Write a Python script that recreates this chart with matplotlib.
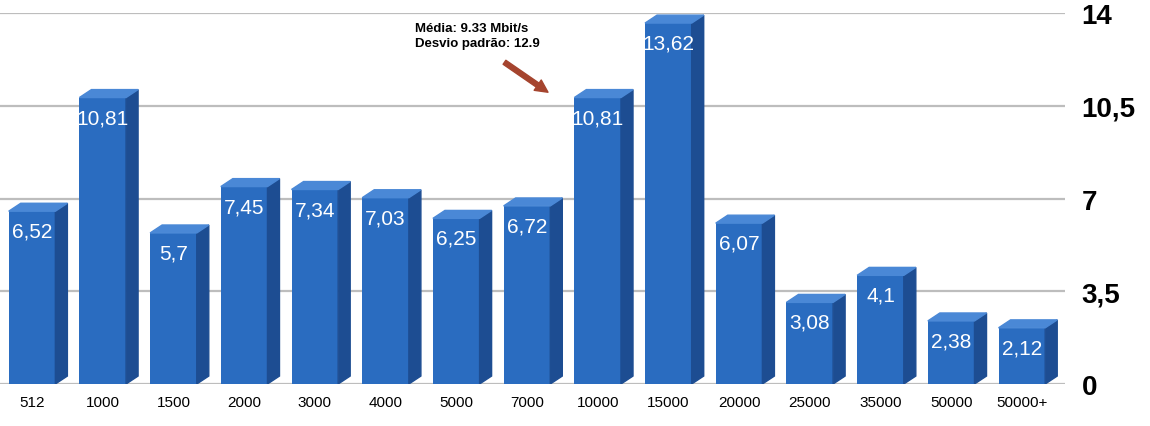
import numpy as np
import matplotlib
matplotlib.use('Agg')
from matplotlib import pyplot as plt
from matplotlib.patches import Polygon

plt.rcParams['font.family'] = ['Liberation Sans', 'DejaVu Sans']

categories = ['512', '1000', '1500', '2000', '3000', '4000', '5000', '7000',
              '10000', '15000', '20000', '25000', '35000', '50000', '50000+']
values = [6.52, 10.81, 5.7, 7.45, 7.34, 7.03, 6.25, 6.72,
          10.81, 13.62, 6.07, 3.08, 4.1, 2.38, 2.12]
yticks = [0, 3.5, 7, 10.5, 14]
ytick_labels = ['0', '3,5', '7', '10,5', '14']
note = 'Média: 9.33 Mbit/s\nDesvio padrão: 12.9'

front = '#2a6cc0'
side = '#1d4d92'
top = '#4a88d6'

fig = plt.figure(figsize=(11.5, 4.27), dpi=100)
ax = fig.add_axes([0.0, (427 - 385) / 427, 1065 / 1150, 371 / 427])
ax.set_xlim(-0.453, 14.61)
ax.set_ylim(0, 14)

## grid
for t in yticks:
    ax.axhline(t, color='#bdbdbd', lw=1.6, zorder=0)

## bars (front face + side + top)
x = np.arange(len(values))
w = 0.66
dx = 0.17
dy = 0.3
ax.bar(x, values, width=w, color=front, zorder=3)
for xi, v in zip(x, values):
    xr = xi + w / 2
    xl = xi - w / 2
    ax.add_patch(Polygon([(xr, 0), (xr + dx, dy), (xr + dx, v + dy), (xr, v)],
                         closed=True, color=side, zorder=3))
    ax.add_patch(Polygon([(xl, v), (xr, v), (xr + dx, v + dy), (xl + dx, v + dy)],
                         closed=True, color=top, zorder=3))
    ax.text(xi, v - 0.4, str(v).replace('.', ','), color='white', fontsize=15,
            ha='center', va='top', zorder=4)

## category labels
ax.set_xticks(x)
ax.set_xticklabels(categories, fontsize=11)
ax.tick_params(axis='x', length=0, pad=8)

## right axis labels
ax.yaxis.tick_right()
ax.set_yticks(yticks)
ax.set_yticklabels(ytick_labels, fontsize=20, fontweight='bold')
ax.tick_params(axis='y', length=0, pad=12)

for s in ax.spines.values():
    s.set_visible(False)

## note + arrow
ax.text(5.42, 13.65, note, fontsize=9.5, fontweight='bold', va='top', ha='left',
        linespacing=1.3)
ax.annotate('', xy=(7.33, 10.95), xytext=(6.65, 12.2),
            arrowprops=dict(arrowstyle='simple,head_width=0.9,head_length=0.9,tail_width=0.35',
                            color='#a5442e'), zorder=5)

fig.savefig('out.png', dpi=100)
